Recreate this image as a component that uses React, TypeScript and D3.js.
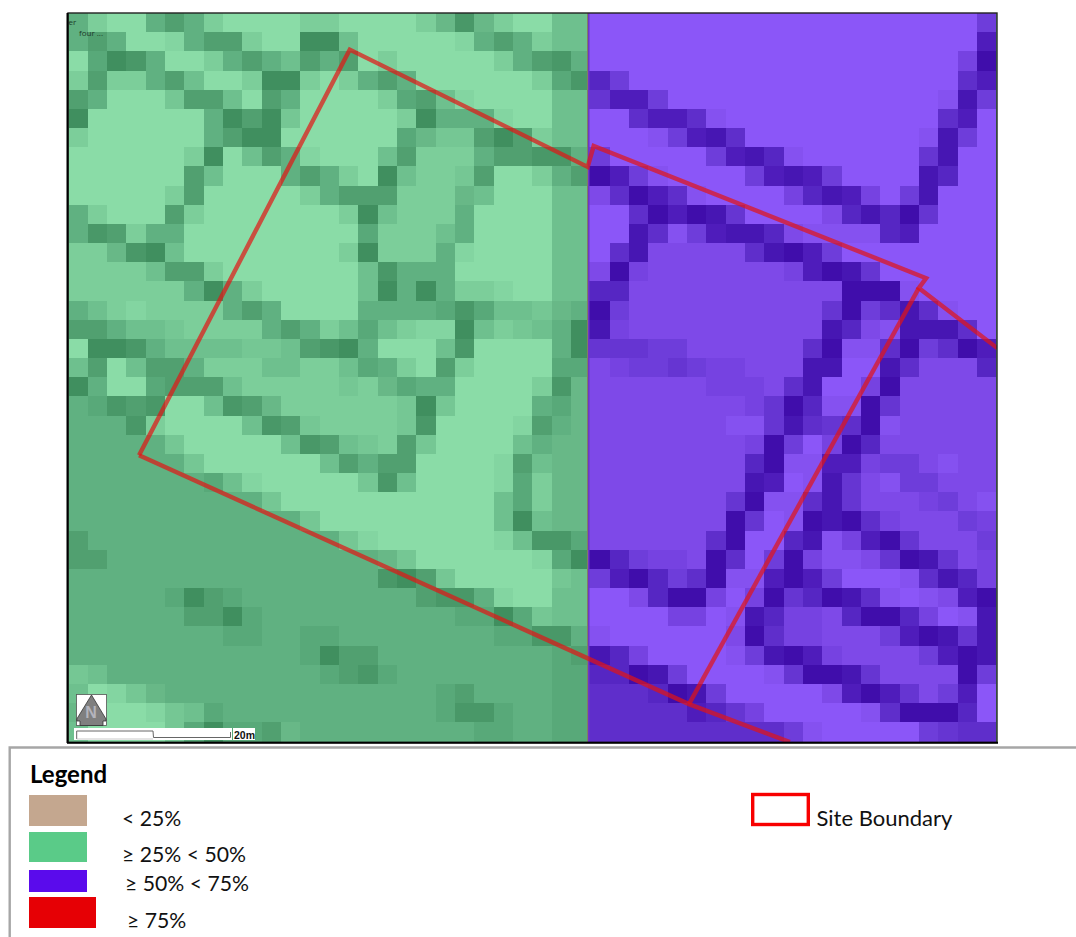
import React from "react";
import * as d3 from "d3";

// Raster shade classes per cell, a-e are half steps (a=0.5, b=1.5, c=2.5, d=3.5, e=4.5).
// Each row: cols 0-15, cols 16-26 (green panel), cols 27-31, cols 32-47 (purple panel).
const rasterRows: string[] = [
  "3100343100001100 001cec10022 00000 0000000000000002",
  "34300a3441005520 0000a343122 00000 0000000000000004",
  "0d5e300134324340 100000134e3 00000 00000000000000b5",
  "1411342001551013 430000001de d2000 0000000000000034",
  "43000b4420430000 1d42a000022 c4420 0000000000000ae2",
  "50000003545b0000 015333a0022 00344 3a00000000000340",
  "1000000345500000 0dcbb454122 000a2 4e3000000000ae20",
  "000000150243a000 24111344ee3 20000 024eda000000ce00",
  "0000004200034310 5211b400134 542a0 00024e420000ed00",
  "0000014000001344 4111c200022 13543 a0000bde4b02e000",
  "3100041000000015 21113000022 00354 5ec00001ded5c000",
  "3e4133000000000d 11123000022 00e3a 24eed1aaaad40000",
  "11ce520000000015 1113a000022 03e11 1113e54200000000",
  "1111244100000002 e3330000022 15b11 11111b45ec000000",
  "1111113531000002 535311a0022 dd111 11111111555a0000",
  "321a111134300003 333ded22bc3 52111 1111111c523e3a00",
  "44322b111134312d 21aa521b235 eb111 1111111ed1aeee30",
  "055e32222bb24e53 0002e000035 ccc22 11111135aa352354",
  "240244311122112d 310410000dd 1b22c 2bb111ee00e3111d",
  "5300d444211111b1 cd3300001ec 11111 1bbb13e00b511111",
  "3de4e002e4c11111 1b5b00003dc 11111 111bc5daa5c11111",
  "333e100002e4b111 1be0000a43c 11111 11aace3c35a11111",
  "33333b000002e42b 14b000023cc 11111 111b520b5d111111",
  "333333b000000243 440000a42cc 11111 111d5aa44b221a11",
  "3333333d2a00000b e20000ad1cc 11111 111e40aec1a22111",
  "3333333333b00000 0000002d1cc 11111 11c5aa3ec111b21a",
  "333333333333b000 000000252cc 11111 115c0a5e53b1112b",
  "43333333333333ba 000000a2eed 11111 13500deab45c1112",
  "4433333333333333 cb000000ad5 5d2bb 153025baa1c5ec1b",
  "3333333333333333 e54b00000b2 245d2 35aa4542000a3edb",
  "33333d54d3333333 334ee3a0022 001d5 5b0b5cd5e3a0a145",
  "333333445d333333 3333dd5db22 0000b b0aedbb1d55db0ae",
  "33333333dd33dd33 333333ddee3 a0000 00153bb111245ece",
  "333333333333d544 333333333d4 edb00 00a2e54b1111245e",
  "b233333333333d4e d33333333dd dd5e2 0000ac55ec111152",
  "20abc33333333333 333d43333dd 333d5 e2000001454c1240",
  "c000ab2d33333333 333deed33dd 33333 4dcb00000a3555d0",
  "20000bd5dd4c3333 33333dd33dd 33333 333332a000002c33",
];

const halfSteps: Record<string, number> = { a: 0.5, b: 1.5, c: 2.5, d: 3.5, e: 4.5 };
const shadeStops = [0, 1, 3, 5];
const greenRamp = ["#8adca7", "#7bce9a", "#61b181", "#418f5f"];
const purpleRamp = ["#8b57f8", "#7e4ae8", "#5e2ecb", "#3f0bab"];
const greenColumns = 27;
const columns = 48;

// Site boundary in grid units (column, row).
const sitePolygon: [number, number][] = [
  [3.65, 23.07], [14.55, 1.91], [26.86, 8.03], [27.17, 6.94], [44.37, 13.83], [43.99, 14.35], [48.05, 17.48],
];
const siteEastEdge: [number, number][] = [[43.99, 14.35], [32.10, 36.05]];
const siteSouthEdge: [number, number][] = [[3.65, 23.07], [32.10, 36.05], [37.32, 38.03]];

const legendTitle = "Legend";
const legendLabels = ["< 25%", "≥ 25% < 50%", "≥ 50% < 75%", "≥ 75%"];
const legendColors = ["#c4a78f", "#5acb88", "#5a0bec", "#e60005"];
const legendSwatchTop = [795, 832, 870, 897];
const legendSwatchHeight = [31, 30, 22, 31];
const legendSwatchWidth = [58, 58, 58, 67];
const legendTextX = [122, 122, 125, 127];
const legendTextY = [826, 862, 891, 928];
const siteLabel = "Site Boundary";

const FONT = "Lato, 'Open Sans', sans-serif";

export default function App() {
  const x = d3.scaleLinear().domain([0, columns]).range([68.5, 996.3]);
  const y = d3.scaleLinear().domain([0, rasterRows.length]).range([13, 741.5]);
  const green = d3.scaleLinear<string>().domain(shadeStops).range(greenRamp).interpolate(d3.interpolateRgb);
  const purple = d3.scaleLinear<string>().domain(shadeStops).range(purpleRamp).interpolate(d3.interpolateRgb);
  const divide = 587.5;
  const line = d3.line<[number, number]>().x((d) => x(d[0])).y((d) => y(d[1]));

  const cells: React.ReactNode[] = [];
  rasterRows.forEach((raw, r) => {
    const row = raw.replace(/ /g, "");
    row.split("").forEach((ch, c) => {
      const v = ch in halfSteps ? halfSteps[ch] : +ch;
      let x0 = Math.round(x(c));
      let x1 = Math.round(x(c + 1));
      if (c === greenColumns - 1) x1 = Math.round(divide);
      if (c === greenColumns) x0 = Math.round(divide);
      const y0 = Math.round(y(r));
      const y1 = Math.round(y(r + 1));
      cells.push(
        <rect
          key={`${r}-${c}`}
          x={x0}
          y={y0}
          width={x1 - x0}
          height={y1 - y0}
          shapeRendering="crispEdges"
          fill={c < greenColumns ? green(v) : purple(v)}
        />
      );
    });
  });

  return (
    <svg
      width={1076}
      height={937}
      viewBox="0 0 1076 937"
      style={{ position: "absolute", left: 0, top: 0, background: "#fff" }}
    >
      <defs>
        <clipPath id="map">
          <rect x={68} y={13} width={929} height={729} />
        </clipPath>
        <filter id="soft" x="0" y="0" width="1" height="1">
          <feGaussianBlur stdDeviation={0.5} />
        </filter>
      </defs>
      <g clipPath="url(#map)">
        <rect x={68} y={13} width={929} height={729} fill="#61b181" />
        <g filter="url(#soft)">{cells}</g>
        <rect x={587} y={13} width={1} height={729} fill="#7f7f62" />
        <rect x={588} y={13} width={1.5} height={729} fill="#6d36c6" />
        <g fill="none" stroke="#e31414" strokeOpacity={0.7} strokeWidth={4.4} strokeLinejoin="miter">
          <path d={line(sitePolygon) ?? ""} />
          <path d={line(siteEastEdge) ?? ""} />
          <path d={line(siteSouthEdge) ?? ""} />
        </g>
        <text x={68.5} y={25} fontSize={8} fontFamily="'Open Sans', sans-serif" fill="#1c3a28">er</text>
        <text x={79} y={36} fontSize={8} fontFamily="'Open Sans', sans-serif" fill="#1c3a28">four ...</text>
      </g>
      <rect x={68} y={13} width={929} height={729.5} fill="none" stroke="#222" strokeWidth={1.4} />
      <line x1={67.5} y1={13} x2={67.5} y2={743} stroke="#000" strokeWidth={2} />
      <line x1={67} y1={742.8} x2={998} y2={742.8} stroke="#000" strokeWidth={2} />

      {/* north arrow */}
      <rect x={76.5} y={694.5} width={30} height={31} fill="#fff" stroke="#555" strokeWidth={0.8} />
      <path
        d={`M91.5 695 L106 719 L106 721 L103 721 L103 725.5 L80 725.5 L80 721 L76.8 721 L76.8 719 Z`}
        fill="#7f7f7f"
        stroke="#333"
        strokeWidth={0.8}
      />
      <text x={91} y={718} textAnchor="middle" fontSize={16} fontWeight={700} fontFamily="'Liberation Sans', sans-serif" fill="#b4b4bc">N</text>

      {/* scale bar */}
      <rect x={74} y={728} width={158} height={12} fill="#fff" />
      <path d="M76.7 739 V731 H153 L153.5 737.5 H230.5 V732" fill="none" stroke="#666" strokeWidth={1} />
      <line x1={76.7} y1={739} x2={153} y2={739} stroke="#bbb" strokeWidth={0.8} />
      <rect x={233} y={728} width={22} height={12} fill="#fff" />
      <text x={234} y={738.5} fontSize={10.5} fontWeight={700} fontFamily="'Liberation Sans', sans-serif" fill="#111">20m</text>

      {/* legend frame */}
      <path d="M9.7 937 V747.5 H1076" fill="none" stroke="#a6a6a6" strokeWidth={2.4} />
      <text x={30} y={783} fontSize={24} fontWeight={700} fontFamily={FONT} fill="#000">{legendTitle}</text>
      {legendLabels.map((label, i) => (
        <g key={label}>
          <rect x={29} y={legendSwatchTop[i]} width={legendSwatchWidth[i]} height={legendSwatchHeight[i]} fill={legendColors[i]} />
          <text x={legendTextX[i]} y={legendTextY[i]} fontSize={21.2} fontFamily={FONT} fill="#111">{label}</text>
        </g>
      ))}
      <rect x={752.7} y={794.5} width={55.6} height={30} fill="#fff" stroke="#f80000" strokeWidth={3.4} />
      <text x={816.5} y={826} fontSize={22} fontFamily={FONT} fill="#111">{siteLabel}</text>
    </svg>
  );
}
